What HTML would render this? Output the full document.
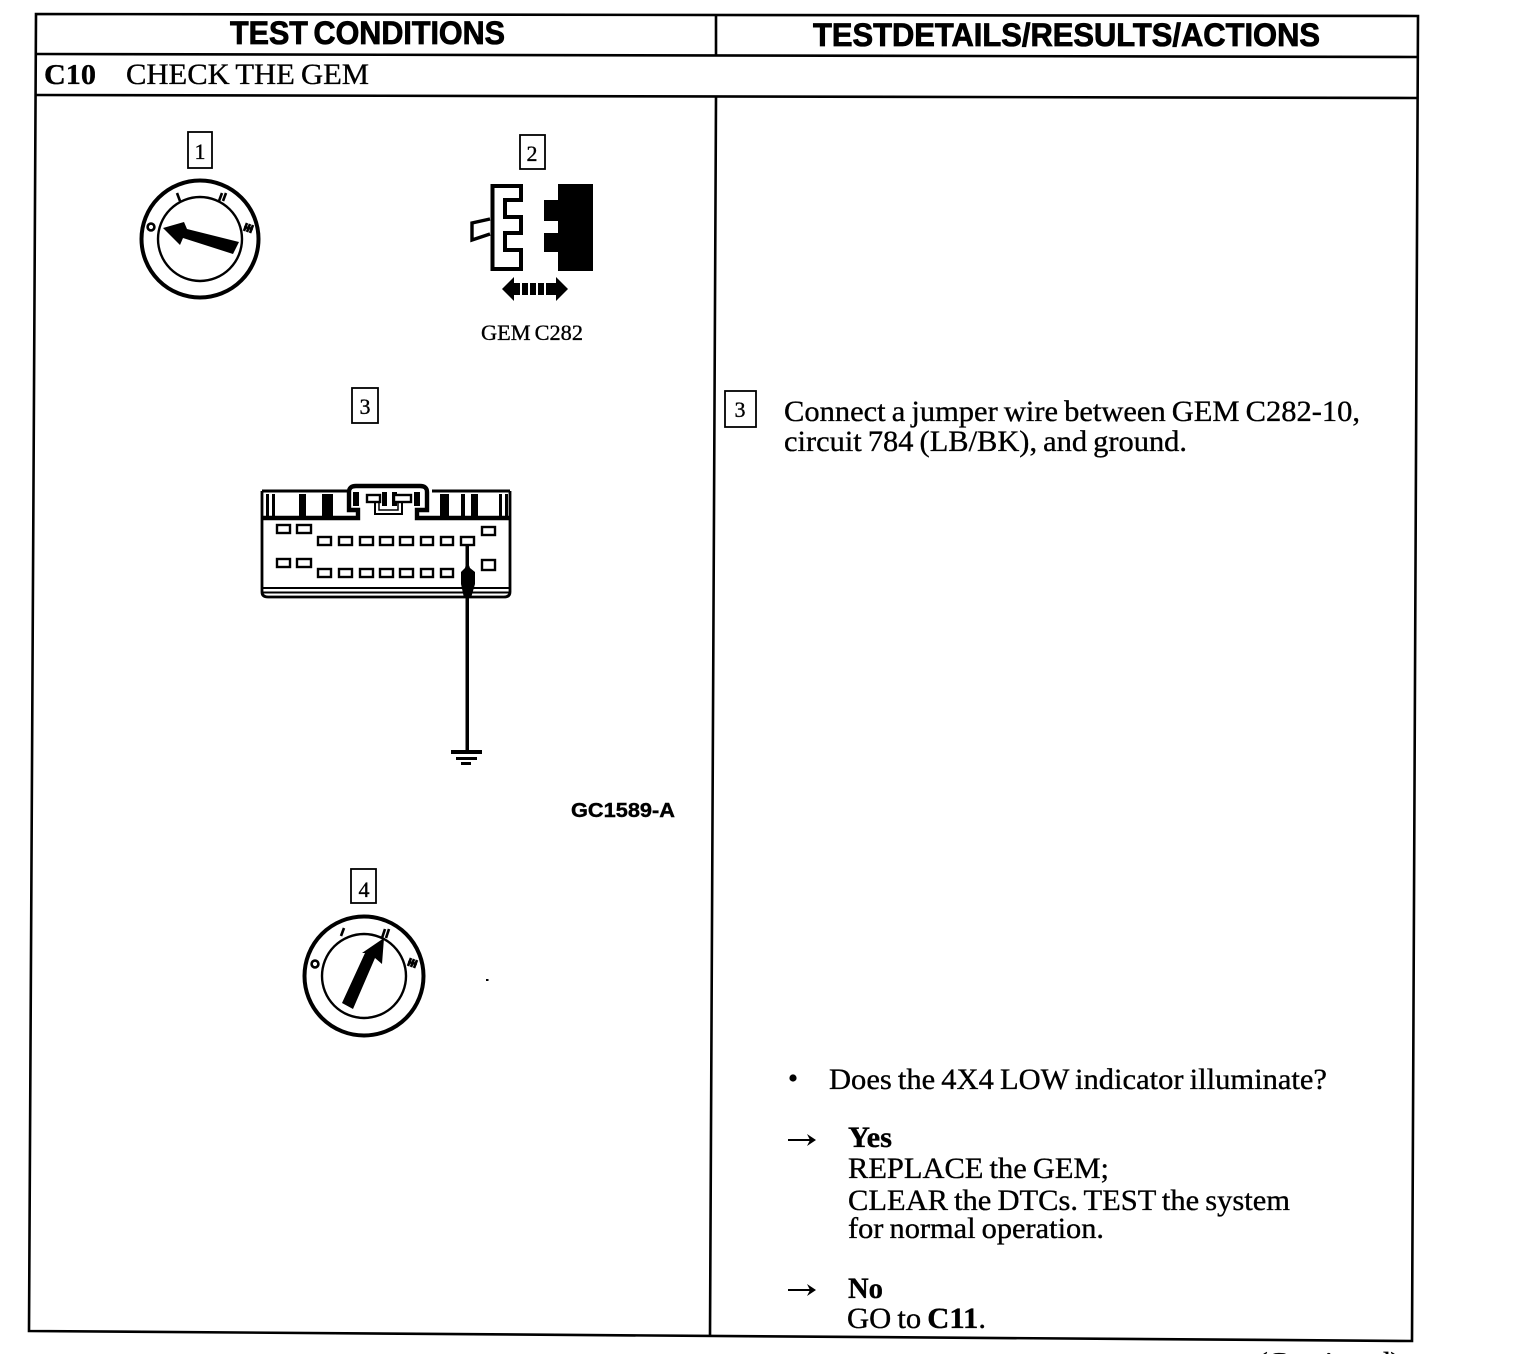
<!DOCTYPE html>
<html>
<head>
<meta charset="utf-8">
<style>
html,body{margin:0;padding:0;background:#fff;width:1520px;height:1354px;overflow:hidden}
svg{display:block}
text{fill:#000;stroke:#000;stroke-width:.35;font-family:"Liberation Serif",serif}
.s{font-family:"Liberation Sans",sans-serif;font-weight:bold;stroke-width:.8;word-spacing:-3px}
.b{font-weight:bold}
.n{fill:none;stroke:#000}
.p{fill:#fff;stroke:#000;stroke-width:2.4}
.t{word-spacing:-1.5px}
</style>
</head>
<body>
<svg width="1520" height="1354" viewBox="0 0 1520 1354" xmlns="http://www.w3.org/2000/svg">
<!-- table -->
<g class="n" stroke-width="2.6" fill="none">
<path d="M36 14L1418 16L1412 1341L29 1331Z"/>
<path d="M716 15L716 55M716 97L710 1336"/>
<path d="M36 54L1418 57"/>
<path d="M35 95L1418 98"/>
</g>
<!-- headers -->
<text class="s" x="230" y="44" font-size="32" textLength="275" lengthAdjust="spacingAndGlyphs">TEST CONDITIONS</text>
<text class="s" x="813" y="46" font-size="32" textLength="507" lengthAdjust="spacingAndGlyphs">TESTDETAILS/RESULTS/ACTIONS</text>
<text class="b" x="44" y="84" font-size="29" textLength="52" lengthAdjust="spacingAndGlyphs">C10</text>
<text class="t" x="126" y="84" font-size="30" textLength="243" lengthAdjust="spacingAndGlyphs">CHECK THE GEM</text>

<!-- step boxes -->
<g class="n" stroke-width="1.8">
<rect x="188" y="132" width="24" height="36"/>
<rect x="520" y="135" width="25" height="34"/>
<rect x="352" y="388" width="26" height="35"/>
<rect x="351" y="869" width="25" height="34"/>
<rect x="725" y="391" width="31" height="36"/>
</g>
<g font-size="22" text-anchor="middle">
<text x="200" y="159">1</text>
<text x="532" y="161">2</text>
<text x="365" y="414">3</text>
<text x="364" y="897" font-family="Liberation Sans">4</text>
<text x="740" y="417">3</text>
</g>

<!-- dial 1 -->
<circle class="n" cx="200" cy="239" r="58.5" stroke-width="4"/>
<circle class="n" cx="200" cy="239" r="42" stroke-width="2.4"/>
<polygon points="163,228 184,222 187,229 239,242 233,254 183,238 180,245"/>
<g class="n" stroke-width="2.6">
<circle cx="151" cy="227" r="3.4"/>
<path d="M177 193L180 201"/>
<path d="M219 201L222 193M223 201L226 193"/>
<path d="M244 231L247 223M247 232L250 224M250 233L253 225M244 227L253 229"/>
</g>

<!-- connector 2 -->
<path class="n" stroke-width="4" d="M492.5 186H521V200H505V217H521V233H505V250H521V269H492.5Z"/>
<path class="n" stroke-width="3.4" d="M490 219L472 223V240L490 234"/>
<path d="M558 184H593V271H558V252H544V233H558V221H544V200H558Z"/>
<path d="M502 289L514 277V301Z"/>
<path d="M568 289L556 277V301Z"/>
<g><rect x="514" y="283" width="6" height="12"/><rect x="522" y="283" width="6" height="12"/><rect x="530" y="283" width="6" height="12"/><rect x="538" y="283" width="6" height="12"/><rect x="546" y="283" width="11" height="12"/></g>
<text class="t" x="481" y="340" font-size="22" textLength="102" lengthAdjust="spacingAndGlyphs">GEM C282</text>

<!-- connector 3 -->
<g>
<path class="n" stroke-width="2.8" d="M262 491V592Q262 597 268 597H504Q510 597 510 592V491"/>
<path class="n" stroke-width="3" d="M262 491H348M432 491H510"/>
<path class="n" stroke-width="4.4" d="M262 518H358V510H349V492Q349 486 356 486H420Q427 486 427 492V510H417V518H510"/>
<path class="n" stroke-width="2" d="M262 588H510M262 592.5H510"/>
<!-- band cells -->
<rect x="266" y="494" width="3" height="22"/><rect x="272" y="494" width="3" height="22"/>
<rect x="299" y="494" width="7" height="22"/><rect x="322" y="494" width="11" height="22"/>
<rect x="440" y="494" width="9" height="22"/><rect x="461" y="494" width="4" height="22"/><rect x="471" y="494" width="7" height="22"/><rect x="499" y="494" width="3" height="22"/><rect x="505" y="494" width="3" height="22"/>
<rect x="353" y="492" width="6" height="14"/><rect x="382" y="492" width="5" height="14"/><rect x="392" y="492" width="5" height="14"/><rect x="414" y="492" width="6" height="14"/>
<rect class="p" x="367" y="495" width="13" height="7"/>
<rect class="p" x="394" y="495" width="17" height="7"/>
<path class="n" stroke-width="2" d="M375 503V514H402V503"/>
<path class="n" stroke-width="1.5" d="M379 503V510H398V503"/>
</g>
<g class="p">
<rect x="277" y="525" width="13" height="8"/><rect x="297" y="525" width="14" height="8"/>
<rect x="318" y="537" width="13" height="8"/><rect x="339" y="537" width="13" height="8"/><rect x="360" y="537" width="13" height="8"/><rect x="380" y="537" width="13" height="8"/><rect x="400" y="537" width="13" height="8"/><rect x="421" y="537" width="12" height="8"/><rect x="441" y="537" width="12" height="8"/><rect x="461" y="537" width="13" height="8"/>
<rect x="482" y="527" width="13" height="8"/>
<rect x="277" y="559" width="13" height="8"/><rect x="297" y="559" width="14" height="8"/>
<rect x="318" y="569" width="13" height="8"/><rect x="339" y="569" width="13" height="8"/><rect x="360" y="569" width="13" height="8"/><rect x="380" y="569" width="13" height="8"/><rect x="400" y="569" width="13" height="8"/><rect x="421" y="569" width="12" height="8"/><rect x="441" y="569" width="12" height="8"/>
<rect x="482" y="560" width="13" height="10"/>
</g>
<!-- jumper + ground -->
<rect x="465.5" y="545" width="3.5" height="205"/>
<path d="M467 560L470 568L475 572V584L471 598H464L461 584V572L465 568Z"/>
<rect x="451" y="750" width="31" height="4"/>
<rect x="456" y="757" width="21" height="3"/>
<rect x="461" y="762" width="10" height="3"/>

<text class="s" style="stroke-width:.4" x="571" y="817" font-size="20" textLength="104" lengthAdjust="spacingAndGlyphs">GC1589-A</text>

<!-- dial 4 -->
<circle class="n" cx="364" cy="976" r="59.5" stroke-width="4"/>
<circle class="n" cx="364" cy="976" r="42" stroke-width="2.4"/>
<polygon points="384,938 382,964 375,958 353,1009 342,1003 365,953 362,953"/>
<g class="n" stroke-width="2.6">
<circle cx="315" cy="964" r="3.4"/>
<path d="M341 936L344 928"/>
<path d="M382 938L385 929M386 938L389 929"/>
<path d="M408 966L411 958M411 967L414 959M414 968L417 960M408 962L417 964"/>
</g>
<rect x="486" y="979" width="2.5" height="2"/>

<!-- right column text -->
<g font-size="30" class="t">
<text x="784" y="421" textLength="576" lengthAdjust="spacingAndGlyphs">Connect a jumper wire between GEM C282-10,</text>
<text x="784" y="451" textLength="403" lengthAdjust="spacingAndGlyphs">circuit 784 (LB/BK), and ground.</text>
<text x="829" y="1089" textLength="498" lengthAdjust="spacingAndGlyphs">Does the 4X4 LOW indicator illuminate?</text>
<text class="b" x="848" y="1147" textLength="44" lengthAdjust="spacingAndGlyphs">Yes</text>
<text x="848" y="1178" textLength="261" lengthAdjust="spacingAndGlyphs">REPLACE the GEM;</text>
<text x="848" y="1210" textLength="442" lengthAdjust="spacingAndGlyphs">CLEAR the DTCs. TEST the system</text>
<text x="848" y="1238" textLength="256" lengthAdjust="spacingAndGlyphs">for normal operation.</text>
<text class="b" x="848" y="1298" textLength="35" lengthAdjust="spacingAndGlyphs">No</text>
<text x="847" y="1328" textLength="139" lengthAdjust="spacingAndGlyphs">GO to <tspan class="b">C11</tspan>.</text>
</g>
<circle cx="793" cy="1078" r="3.6"/>
<path class="n" stroke-width="2" d="M788 1140H810M788 1290H810"/>
<path d="M807 1134L816 1140L807 1146L810 1140Z"/>
<path d="M807 1284L816 1290L807 1296L810 1290Z"/>
<text x="1258" y="1369" font-size="24" textLength="142" lengthAdjust="spacingAndGlyphs">(Continued)</text>
</svg>
</body>
</html>
